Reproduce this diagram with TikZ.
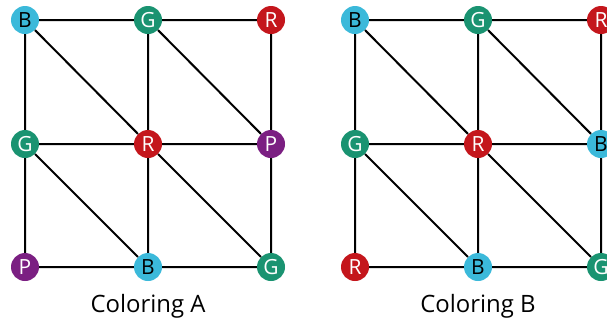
\documentclass[tikz,border=0pt]{standalone}
\usepackage{fontspec}
\setmainfont{Open Sans}
\definecolor{cB}{HTML}{3BB9DA}
\definecolor{cG}{HTML}{1A9371}
\definecolor{cR}{HTML}{C4161C}
\definecolor{cP}{HTML}{7B1F82}
\begin{document}
\begin{tikzpicture}[x=1bp,y=-1bp,
  vtx/.style={circle,minimum size=28bp,inner sep=0pt,font=\fontsize{21}{21}\selectfont},
  vB/.style={vtx,fill=cB,text=black},
  vG/.style={vtx,fill=cG,text=white},
  vR/.style={vtx,fill=cR,text=white},
  vP/.style={vtx,fill=cP,text=white},
  edge/.style={line width=2bp,black},
  captext/.style={font=\fontsize{24}{24}\selectfont}]
\useasboundingbox (0,0) rectangle (607,322);
% Coloring A
\node[vB] (a11) at (25,20) {B};
\node[vG] (a12) at (148,20) {G};
\node[vR] (a13) at (271,20) {R};
\node[vG] (a21) at (25,144) {G};
\node[vR] (a22) at (148,144) {R};
\node[vP] (a23) at (271,144) {P};
\node[vP] (a31) at (25,267) {P};
\node[vB] (a32) at (148,267) {B};
\node[vG] (a33) at (271,267) {G};
% Coloring B
\node[vB] (b11) at (355,20) {B};
\node[vG] (b12) at (478,20) {G};
\node[vR] (b13) at (601,20) {R};
\node[vG] (b21) at (355,144) {G};
\node[vR] (b22) at (478,144) {R};
\node[vB] (b23) at (601,144) {B};
\node[vR] (b31) at (355,267) {R};
\node[vB] (b32) at (478,267) {B};
\node[vG] (b33) at (601,267) {G};
\foreach \g in {a,b}{
  \draw[edge] (\g11) -- (\g12) (\g12) -- (\g13)
              (\g21) -- (\g22) (\g22) -- (\g23)
              (\g31) -- (\g32) (\g32) -- (\g33)
              (\g11) -- (\g21) (\g21) -- (\g31)
              (\g12) -- (\g22) (\g22) -- (\g32)
              (\g13) -- (\g23) (\g23) -- (\g33)
              (\g11) -- (\g22) (\g12) -- (\g23)
              (\g21) -- (\g32) (\g22) -- (\g33);
}
\node[captext] (capA) at (148,306) {Coloring A};
\node[captext] (capB) at (478,306) {Coloring B};
\end{tikzpicture}
\end{document}
